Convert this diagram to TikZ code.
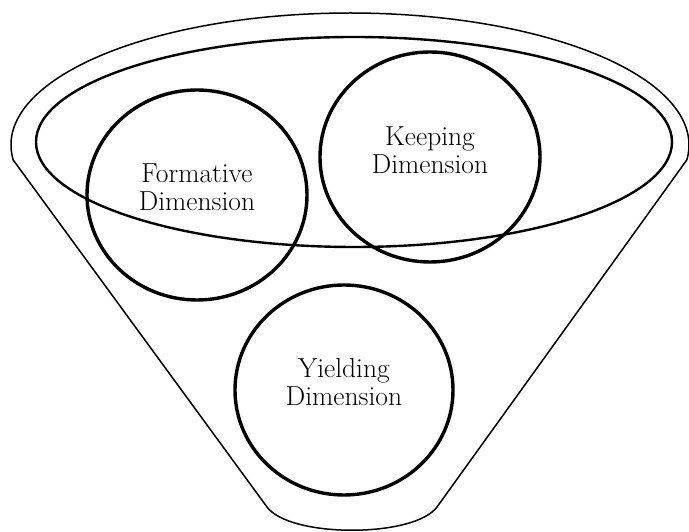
\documentclass[tikz,border=0pt]{standalone}
\usetikzlibrary{calc}
\begin{document}
\begin{tikzpicture}[x=1pt,y=1pt,
  funnelline/.style={line width=1.5pt,line join=round},
  bandline/.style={line width=2.4pt},
  ringline/.style={line width=3.4pt},
  label/.style={align=center,font=\fontsize{27.5}{28}\selectfont,inner sep=0pt}]
\useasboundingbox (0,0) rectangle (689,532);
% funnel outline
\coordinate (tl) at ($(350,387)+(186.5:339 and 132)$);
\coordinate (tr) at ($(350,387)+(-6.5:339 and 132)$);
\coordinate (bl) at (267,25);
\coordinate (br) at (437,25);
\draw[funnelline] (tl) arc[start angle=186.5,end angle=-6.5,x radius=339,y radius=132]
  -- (br) .. controls (414,-6) and (290,-6) .. (bl) -- cycle;
% inner ellipse
\draw[bandline] (354,390) ellipse[x radius=318,y radius=105];
% circles
\draw[ringline] (197,337) ellipse[x radius=110,y radius=105];
\draw[ringline] (430,375) ellipse[x radius=110,y radius=105];
\draw[ringline] (344,142) ellipse[x radius=109,y radius=105];
% labels
\node[label] (formative) at (197,345) {Formative\\Dimension};
\node[label] (keeping) at (430,382) {Keeping\\Dimension};
\node[label] (yielding) at (344,150) {Yielding\\Dimension};
\end{tikzpicture}
\end{document}
